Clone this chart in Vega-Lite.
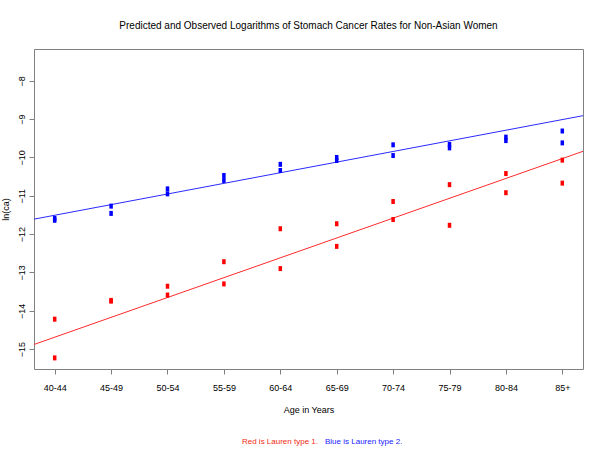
{
  "$schema": "https://vega.github.io/schema/vega-lite/v6.json",
  "autosize": "none",
  "width": 549,
  "height": 320,
  "padding": {"left": 34, "top": 49, "right": 17, "bottom": 81},
  "background": "white",
  "title": {
    "text": "Predicted and Observed Logarithms of Stomach Cancer Rates for Non-Asian Women",
    "font": "Liberation Sans",
    "fontSize": 10,
    "fontWeight": "normal",
    "color": "black",
    "anchor": "middle",
    "offset": 18
  },
  "config": {
    "view": {"stroke": "#808080", "strokeWidth": 1},
    "axis": {
      "grid": false,
      "domain": false,
      "tickColor": "#808080",
      "tickSize": 5,
      "labelFont": "Liberation Sans",
      "labelFontSize": 9,
      "labelColor": "black",
      "titleFont": "Liberation Sans",
      "titleFontSize": 9,
      "titleFontWeight": "normal",
      "titleColor": "black"
    }
  },
  "datasets": {
    "obs": [
      {"age": 1, "type": "Lauren type 2", "lnca": -11.59},
      {"age": 1, "type": "Lauren type 2", "lnca": -11.64},
      {"age": 1, "type": "Lauren type 1", "lnca": -14.22},
      {"age": 1, "type": "Lauren type 1", "lnca": -15.23},
      {"age": 2, "type": "Lauren type 2", "lnca": -11.27},
      {"age": 2, "type": "Lauren type 2", "lnca": -11.46},
      {"age": 2, "type": "Lauren type 1", "lnca": -13.73},
      {"age": 2, "type": "Lauren type 1", "lnca": -13.75},
      {"age": 3, "type": "Lauren type 2", "lnca": -10.82},
      {"age": 3, "type": "Lauren type 2", "lnca": -10.95},
      {"age": 3, "type": "Lauren type 1", "lnca": -13.36},
      {"age": 3, "type": "Lauren type 1", "lnca": -13.59},
      {"age": 4, "type": "Lauren type 2", "lnca": -10.47},
      {"age": 4, "type": "Lauren type 2", "lnca": -10.6},
      {"age": 4, "type": "Lauren type 1", "lnca": -12.72},
      {"age": 4, "type": "Lauren type 1", "lnca": -13.3},
      {"age": 5, "type": "Lauren type 2", "lnca": -10.18},
      {"age": 5, "type": "Lauren type 2", "lnca": -10.34},
      {"age": 5, "type": "Lauren type 1", "lnca": -11.86},
      {"age": 5, "type": "Lauren type 1", "lnca": -12.9},
      {"age": 6, "type": "Lauren type 2", "lnca": -10.0},
      {"age": 6, "type": "Lauren type 2", "lnca": -10.08},
      {"age": 6, "type": "Lauren type 1", "lnca": -11.73},
      {"age": 6, "type": "Lauren type 1", "lnca": -12.32},
      {"age": 7, "type": "Lauren type 2", "lnca": -9.67},
      {"age": 7, "type": "Lauren type 2", "lnca": -9.95},
      {"age": 7, "type": "Lauren type 1", "lnca": -11.15},
      {"age": 7, "type": "Lauren type 1", "lnca": -11.62},
      {"age": 8, "type": "Lauren type 2", "lnca": -9.66},
      {"age": 8, "type": "Lauren type 2", "lnca": -9.75},
      {"age": 8, "type": "Lauren type 1", "lnca": -10.71},
      {"age": 8, "type": "Lauren type 1", "lnca": -11.77},
      {"age": 9, "type": "Lauren type 2", "lnca": -9.47},
      {"age": 9, "type": "Lauren type 2", "lnca": -9.56},
      {"age": 9, "type": "Lauren type 1", "lnca": -10.42},
      {"age": 9, "type": "Lauren type 1", "lnca": -10.92},
      {"age": 10, "type": "Lauren type 2", "lnca": -9.31},
      {"age": 10, "type": "Lauren type 2", "lnca": -9.62},
      {"age": 10, "type": "Lauren type 1", "lnca": -10.07},
      {"age": 10, "type": "Lauren type 1", "lnca": -10.67}
    ],
    "fit": [
      {"age": 0.633, "type": "Lauren type 2", "lnca": -11.61},
      {"age": 10.367, "type": "Lauren type 2", "lnca": -8.91},
      {"age": 0.633, "type": "Lauren type 1", "lnca": -14.88},
      {"age": 10.367, "type": "Lauren type 1", "lnca": -9.84}
    ],
    "notes": [
      {"text": "Red is Lauren type 1.", "type": "Lauren type 1"},
      {"text": "Blue is Lauren type 2.", "type": "Lauren type 2"}
    ]
  },
  "layer": [
    {
      "data": {"name": "fit"},
      "mark": {"type": "line", "strokeWidth": 1},
      "encoding": {
        "x": {
          "field": "age",
          "type": "quantitative",
          "scale": {"domain": [0.633, 10.367], "nice": false, "zero": false},
          "axis": {
            "title": "Age in Years",
            "values": [1, 2, 3, 4, 5, 6, 7, 8, 9, 10],
            "labelExpr": "['40-44','45-49','50-54','55-59','60-64','65-69','70-74','75-79','80-84','85+'][datum.value - 1]",
            "labelPadding": 9,
            "titlePadding": 13
          }
        },
        "y": {
          "field": "lnca",
          "type": "quantitative",
          "scale": {"domain": [-15.52, -7.17], "nice": false, "zero": false},
          "axis": {
            "title": "ln(ca)",
            "values": [-15, -14, -13, -12, -11, -10, -9, -8],
            "labelAngle": -90,
            "labelPadding": 3,
            "titlePadding": 7
          }
        },
        "color": {
          "field": "type",
          "type": "nominal",
          "scale": {"domain": ["Lauren type 1", "Lauren type 2"], "range": ["#ff2a2a", "#2a2aff"]},
          "legend": null
        },
        "detail": {"field": "type"}
      }
    },
    {
      "data": {"name": "obs"},
      "mark": {"type": "point", "filled": true, "opacity": 1, "shape": "M-0.7,-1H0.7V1H-0.7Z", "size": 25},
      "encoding": {
        "x": {"field": "age", "type": "quantitative"},
        "y": {"field": "lnca", "type": "quantitative"},
        "fill": {
          "field": "type",
          "type": "nominal",
          "scale": {"domain": ["Lauren type 1", "Lauren type 2"], "range": ["#ff0000", "#0000ff"]},
          "legend": null
        }
      }
    },
    {
      "data": {"name": "notes"},
      "transform": [{"filter": "datum.type === 'Lauren type 1'"}],
      "mark": {"type": "text", "align": "right", "baseline": "middle", "font": "Liberation Sans", "fontSize": 8, "fill": "#f02a10"},
      "encoding": {
        "text": {"field": "text"},
        "x": {"value": 284},
        "y": {"value": 393}
      }
    },
    {
      "data": {"name": "notes"},
      "transform": [{"filter": "datum.type === 'Lauren type 2'"}],
      "mark": {"type": "text", "align": "left", "baseline": "middle", "font": "Liberation Sans", "fontSize": 8, "fill": "#1a1aff"},
      "encoding": {
        "text": {"field": "text"},
        "x": {"value": 291},
        "y": {"value": 393}
      }
    }
  ]
}
